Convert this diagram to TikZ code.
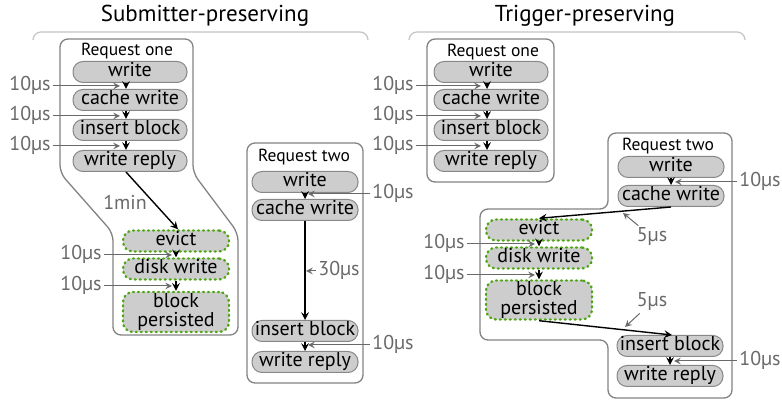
\documentclass[tikz,border=0pt]{standalone}
\usepackage{fontspec}
\setmainfont{PT Sans}

\definecolor{stepfill}{RGB}{205,205,205}
\definecolor{stepline}{RGB}{135,135,135}
\definecolor{panelline}{RGB}{130,130,130}
\definecolor{diskgreen}{RGB}{80,165,20}
\definecolor{timegray}{RGB}{105,105,105}
\definecolor{bracketgray}{RGB}{195,195,195}

\begin{document}
\begin{tikzpicture}
  [x=0.5pt,y=-0.5pt,
   stepshape/.style={draw=stepline,fill=stepfill,rounded corners=5pt,line width=0.5pt,
     inner sep=0pt,minimum width=57pt,minimum height=10.5pt,font=\fontsize{10}{9.6}\selectfont},
   stepbox/.style={stepshape,text height=7pt,text depth=2pt},
   narrow/.style={minimum width=53pt},
   diskbox/.style={draw=diskgreen,dotted,line width=1.2pt,line cap=round,narrow},
   reqlabel/.style={inner sep=0pt,font=\fontsize{8.75}{10}\selectfont},
   timelabel/.style={inner sep=1pt,text=timegray,text height=7pt,text depth=2pt,font=\fontsize{10}{11}\selectfont},
   title/.style={font=\fontsize{11.5}{13}\selectfont},
   panel/.style={draw=panelline,line width=0.65pt,rounded corners=4pt},
   bracket/.style={draw=bracketgray,line width=0.6pt,rounded corners=4pt},
   flow/.style={-stealth,line width=0.7pt},
   timearrow/.style={-stealth,draw=timegray,line width=0.5pt}]
  \useasboundingbox (0,0) rectangle (782,400);

  % titles and brackets
  \node[title] (subtitle) at (205,16) {Submitter-preserving};
  \node[title] (trigtitle) at (585,16) {Trigger-preserving};
  \draw[bracket] (33,40) -- (33,32) -- (368,32) -- (368,40);
  \draw[bracket] (409,40) -- (409,32) -- (745,32) -- (745,40);

  % submitter-preserving panels
  \draw[panel] (60,39) -- (60,173) -- (113,233) -- (113,335) -- (238,335)
    -- (238,233) -- (193,173) -- (193,39) -- cycle;
  \draw[panel] (247,143) rectangle (363,383);

  % trigger-preserving panels
  \draw[panel] (427,39) rectangle (554,182);
  \draw[panel] (608,133) -- (608,209) -- (480,209) -- (480,340) -- (608,340)
    -- (608,398) -- (732,398) -- (732,133) -- cycle;

  % submitter-preserving, request one
  \node[reqlabel] (la) at (127,51) {Request one};
  \node[stepbox] (law) at (130,72) {write};
  \node[stepbox] (lac) at (130,100) {cache write};
  \node[stepbox] (lai) at (130,130) {insert block};
  \node[stepbox] (lar) at (130,161) {write reply};
  \node[stepbox,diskbox] (lae) at (176,241) {evict};
  \node[stepbox,diskbox] (lad) at (176,269) {disk write};
  \node[stepshape,diskbox,minimum height=20pt,align=center] (lap) at (176,312) {block\\persisted};

  % submitter-preserving, request two
  \node[reqlabel] (lb) at (304,157) {Request two};
  \node[stepbox,narrow] (lbw) at (305,182) {write};
  \node[stepbox,narrow] (lbc) at (305,210) {cache write};
  \node[stepbox,narrow] (lbi) at (305,331) {insert block};
  \node[stepbox,narrow] (lbr) at (305,362) {write reply};

  % trigger-preserving, request one
  \node[reqlabel] (ra) at (493,52) {Request one};
  \node[stepbox] (raw) at (491,72) {write};
  \node[stepbox] (rac) at (491,100) {cache write};
  \node[stepbox] (rai) at (491,130) {insert block};
  \node[stepbox] (rar) at (491,161) {write reply};

  % trigger-preserving, request two
  \node[reqlabel] (rb) at (668,146) {Request two};
  \node[stepbox,narrow] (rbw) at (671,167) {write};
  \node[stepbox,narrow] (rbc) at (671,196) {cache write};
  \node[stepbox,diskbox] (rbe) at (539,230) {evict};
  \node[stepbox,diskbox] (rbd) at (539,258) {disk write};
  \node[stepshape,diskbox,minimum height=19.5pt,align=center] (rbp) at (539,300) {block\\persisted};
  \node[stepbox,narrow] (rbi) at (670,346) {insert block};
  \node[stepbox,narrow] (rbr) at (670,376) {write reply};

  % black step arrows
  \foreach \from/\to in {law/lac,lac/lai,lai/lar,raw/rac,rac/rai,rai/rar}
    \draw[flow] ([xshift=-2pt]\from.south) -- ([xshift=-2pt]\to.north);
  \foreach \from/\to in {lae/lad,lad/lap,lbw/lbc,lbc/lbi,lbi/lbr,rbw/rbc,rbe/rbd,rbd/rbp,rbi/rbr}
    \draw[flow] (\from.south) -- (\to.north);
  \draw[flow] ([xshift=-2pt]lar.south) -- ([xshift=1pt]lae.north);
  \draw[flow] (rbc.south) -- (rbe.north);
  \draw[flow] (rbp.south) -- ([xshift=1pt]rbi.north);

  % time labels
  \node[timelabel] (t1) at (30,86) {10µs};
  \node[timelabel] (t2) at (30,116) {10µs};
  \node[timelabel] (t3) at (30,146) {10µs};
  \node[timelabel] (t4) at (81,255) {10µs};
  \node[timelabel] (t5) at (81,286) {10µs};
  \node[timelabel] (tmin) at (125,205) {1min};
  \node[timelabel] (t6) at (393,194) {10µs};
  \node[timelabel] (t7) at (339,271) {30µs};
  \node[timelabel] (t8) at (393,345) {10µs};
  \node[timelabel] (t9) at (393,86) {10µs};
  \node[timelabel] (t10) at (393,116) {10µs};
  \node[timelabel] (t11) at (393,146) {10µs};
  \node[timelabel] (t12) at (760,182) {10µs};
  \node[timelabel] (t13) at (444,244) {10µs};
  \node[timelabel] (t14) at (444,275) {10µs};
  \node[timelabel] (t15) at (652,237) {5µs};
  \node[timelabel] (t16) at (652,302) {5µs};
  \node[timelabel] (t17) at (760,361) {10µs};

  % where the time arrows point
  \coordinate (p1) at (120,86);
  \coordinate (p2) at (120,116);
  \coordinate (p3) at (120,146);
  \coordinate (p4) at (172,255);
  \coordinate (p5) at (172,286);
  \coordinate (p6) at (308,194);
  \coordinate (p7) at (306,271);
  \coordinate (p8) at (308,345);
  \coordinate (p9) at (481,86);
  \coordinate (p10) at (481,116);
  \coordinate (p11) at (481,146);
  \coordinate (p12) at (675,182);
  \coordinate (p13) at (535,244);
  \coordinate (p14) at (535,275);
  \coordinate (p15) at (623,213);
  \coordinate (p16) at (625,327);
  \coordinate (p17) at (674,361);
  \foreach \from/\to in {t1/p1,t2/p2,t3/p3,t4/p4,t5/p5,t6/p6,t7/p7,t8/p8,t9/p9,
      t10/p10,t11/p11,t12/p12,t13/p13,t14/p14,t15/p15,t16/p16,t17/p17}
    \draw[timearrow] (\from) -- (\to);
\end{tikzpicture}
\end{document}
